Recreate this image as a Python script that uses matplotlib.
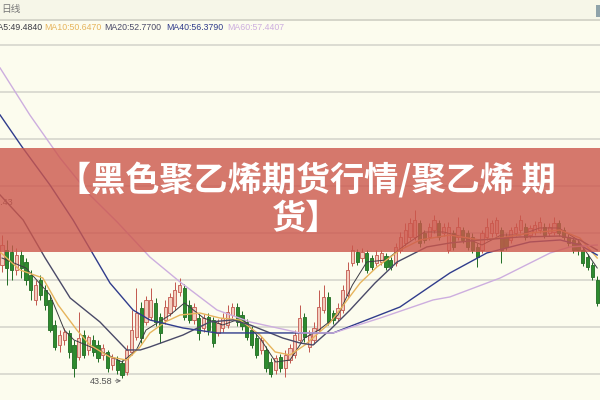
import numpy as np
import matplotlib
matplotlib.use("Agg")
import matplotlib.pyplot as plt
from matplotlib.patches import Rectangle

# ---- candles (daily bars, left to right) ----
opens = [55.60, 57.19, 56.98, 55.07, 56.66, 55.92, 54.54, 51.88, 54.00, 52.94,
         51.88, 49.22, 47.09, 47.62, 48.37, 47.09, 45.81, 48.15, 46.56, 47.62,
         47.09, 46.03, 46.35, 44.96, 45.49, 45.17, 44.22, 46.35, 47.94, 51.03,
         49.54, 50.07, 51.56, 50.07, 49.75, 50.49, 51.24, 52.73, 53.15, 51.34,
         49.75, 49.96, 48.90, 50.07, 49.75, 48.37, 48.90, 49.22, 50.28, 51.13,
         50.28, 49.54, 48.68, 47.83, 46.56, 46.56, 45.28, 44.43, 45.81, 44.64,
         45.49, 46.03, 47.62, 50.07, 46.88, 47.62, 48.68, 50.81, 52.20, 50.49,
         49.96, 50.81, 52.41, 55.81, 56.98, 56.34, 56.88, 56.34, 55.81, 55.92,
         56.56, 56.13, 55.81, 57.19, 57.94, 58.58, 58.58, 60.07, 59.00, 58.58,
         59.32, 60.07, 59.00, 57.19, 59.00, 58.58, 59.32, 59.00, 58.58, 57.52,
         57.19, 58.58, 59.00, 59.00, 59.32, 58.58, 58.26, 59.00, 59.32, 59.64,
         58.79, 59.11, 59.32, 59.64, 59.00, 59.11, 60.07, 59.32, 58.58, 58.26,
         57.94, 57.19, 56.45, 55.60, 54.00]
closes = [57.73, 55.28, 55.07, 56.66, 55.28, 54.00, 52.94, 53.47, 52.41, 51.34,
          48.68, 46.88, 48.15, 48.47, 46.35, 44.64, 47.83, 46.03, 47.94, 46.35,
          45.70, 46.77, 44.64, 45.70, 44.43, 43.90, 46.56, 48.68, 50.49, 47.83,
          51.88, 51.88, 49.54, 48.37, 51.13, 52.20, 52.94, 53.47, 50.07, 49.75,
          51.13, 48.37, 49.96, 48.68, 47.30, 49.43, 49.96, 50.60, 51.13, 49.54,
          49.11, 47.94, 47.09, 46.03, 47.62, 44.64, 44.00, 45.70, 44.64, 46.03,
          46.77, 48.15, 49.96, 47.94, 48.15, 48.90, 51.13, 52.20, 49.54, 49.75,
          51.03, 52.94, 55.07, 57.19, 55.92, 56.98, 55.07, 55.39, 56.66, 56.88,
          55.39, 55.39, 57.52, 58.58, 59.32, 60.07, 60.39, 57.94, 58.26, 59.64,
          60.39, 58.58, 59.64, 59.64, 57.52, 59.64, 58.26, 57.52, 57.19, 56.45,
          59.00, 59.64, 60.07, 60.39, 57.19, 57.52, 59.32, 59.64, 60.39, 58.58,
          59.54, 59.85, 60.17, 58.79, 59.64, 60.07, 59.00, 58.58, 57.94, 57.19,
          57.19, 55.81, 55.39, 54.32, 51.56]
highs = [58.79, 58.26, 57.73, 57.41, 57.19, 56.34, 55.07, 54.00, 54.54, 53.47,
         52.41, 49.75, 48.68, 48.90, 48.68, 47.62, 50.60, 48.68, 48.15, 48.15,
         47.62, 47.20, 46.56, 46.13, 45.92, 45.49, 47.09, 50.81, 53.15, 51.66,
         52.30, 53.15, 52.09, 50.49, 51.88, 52.62, 53.79, 54.22, 53.58, 51.88,
         51.56, 50.39, 50.39, 50.49, 50.07, 49.86, 50.49, 51.34, 51.56, 51.56,
         50.71, 49.86, 49.11, 48.26, 48.05, 46.98, 45.70, 46.03, 46.13, 46.56,
         47.20, 48.68, 51.34, 50.49, 48.68, 49.54, 52.94, 53.47, 52.73, 50.81,
         51.56, 53.47, 55.92, 57.73, 57.30, 57.41, 57.19, 56.66, 57.19, 57.19,
         56.88, 56.45, 57.94, 59.11, 60.07, 60.60, 61.45, 60.39, 59.32, 60.07,
         60.92, 60.39, 60.07, 60.17, 59.32, 60.70, 59.64, 59.32, 59.00, 57.94,
         59.32, 60.60, 60.39, 60.70, 59.64, 59.00, 59.64, 60.07, 60.92, 60.07,
         59.85, 60.28, 60.70, 60.07, 60.07, 60.70, 60.39, 59.64, 58.90, 58.58,
         58.26, 57.52, 56.77, 55.92, 54.43]
lows = [54.85, 53.47, 54.00, 54.54, 54.22, 53.47, 51.88, 51.34, 51.88, 50.81,
        48.47, 46.56, 46.35, 47.09, 45.70, 43.68, 45.49, 45.70, 46.03, 45.92,
        45.28, 45.49, 44.22, 44.43, 44.00, 43.58, 43.90, 46.03, 47.62, 47.30,
        49.22, 49.75, 49.11, 47.30, 49.32, 50.17, 50.81, 52.30, 49.75, 49.43,
        49.32, 47.62, 48.47, 48.15, 46.88, 48.05, 48.47, 48.90, 49.96, 49.11,
        48.68, 47.62, 46.77, 45.70, 46.13, 44.22, 43.68, 44.00, 44.22, 43.68,
        45.17, 45.70, 47.30, 47.41, 46.35, 47.20, 48.37, 50.49, 49.22, 49.32,
        49.64, 50.49, 52.09, 55.49, 55.60, 55.92, 54.75, 55.07, 55.49, 55.60,
        55.07, 55.07, 55.49, 56.88, 57.62, 58.26, 58.26, 57.52, 57.94, 58.26,
        59.00, 58.26, 58.68, 56.88, 57.19, 58.26, 57.94, 57.19, 56.88, 55.39,
        56.88, 58.26, 58.58, 58.68, 55.81, 57.19, 57.94, 58.68, 59.00, 58.26,
        58.47, 58.79, 59.00, 58.47, 58.68, 58.79, 58.68, 58.26, 57.62, 56.88,
        56.66, 55.49, 55.07, 54.00, 51.24]

# ---- moving averages at bar positions ----
ma5_x = [0, 5, 10, 13, 15, 20, 25, 28, 30, 35, 38, 42, 46, 50, 54, 57, 60, 63,
         66, 70, 73, 76, 80, 84, 88, 92, 96, 100, 104, 108, 112, 116, 120, 124]
ma5_y = [56.34, 55.28, 52.41, 48.68, 47.62, 46.56, 45.28, 46.56, 48.68, 50.28,
         51.56, 49.96, 49.22, 49.96, 47.62, 45.28, 45.49, 47.83, 48.68, 50.28,
         53.47, 55.92, 56.13, 57.73, 59.11, 59.11, 58.58, 57.73, 58.79, 58.79,
         59.54, 59.54, 58.26, 55.28]
ma10_x = [-0.4, 3.75, 8.5, 11.7, 15.6, 18.3, 22.5, 26, 28.75, 30.8, 34, 37.1,
          41.25, 45.4, 49.6, 53.75, 56.9, 60, 63.1, 68.3, 74.6, 78.1, 82.9, 87.1,
          93.3, 99.6, 103.75, 110, 116.25, 120.4, 124]
ma10_y = [56.98, 55.07, 54.22, 51.34, 48.68, 47.09, 45.81, 45.49, 46.88, 48.37,
          49.54, 50.28, 50.49, 49.96, 49.75, 48.15, 46.35, 46.03, 47.09, 49.43,
          53.68, 55.39, 57.19, 58.26, 58.79, 58.26, 58.47, 59.00, 59.32, 58.47,
          56.34]
ma20_x = [-0.4, 4.4, 9, 14.2, 20.4, 26, 28.8, 30.8, 37.7, 43.3, 48.1, 51.7,
          58.5, 62.1, 64.8, 68.3, 72.5, 77.7, 82.3, 88.5, 93.3, 99.6, 107.9,
          116.3, 120.4, 124]
ma20_y = [63.05, 60.39, 56.34, 52.09, 49.54, 46.56, 46.56, 46.88, 48.15, 49.54,
          49.75, 49.22, 47.83, 47.30, 47.09, 48.68, 50.81, 53.68, 55.92, 57.52,
          57.94, 58.26, 58.58, 58.68, 58.26, 57.19]
ma40_x = [-0.4, 4.2, 10, 14.8, 22.5, 27.3, 30.8, 37.7, 44.8, 51.7, 62.1, 69,
          82.9, 93.3, 101, 110, 116.3, 120.4, 124]
ma40_y = [71.56, 68.15, 64.11, 60.39, 53.68, 50.81, 49.75, 48.90, 48.37, 48.37,
          48.37, 48.37, 51.13, 54.75, 56.88, 58.05, 58.26, 57.73, 56.66]
ma60_x = [-0.4, 5.8, 12.1, 18.3, 24, 30.8, 37.1, 44.8, 51.7, 62.1, 69, 78.8,
          89.8, 93.3, 103.8, 114.2, 118.3, 124]
ma60_y = [76.56, 71.56, 66.98, 63.05, 60.17, 56.45, 53.79, 50.81, 49.54, 48.37,
          48.37, 49.96, 51.88, 52.20, 54.22, 56.88, 57.52, 57.73]

ma_labels = ["MA5:49.4840", "MA10:50.6470", "MA20:52.7700", "MA40:56.3790", "MA60:57.4407"]
grid_levels = [44, 49, 54, 59, 64, 69, 74, 79]
low_label = "43.58"
low_bar = 25

BG = "#FCFCEE"
UP_EDGE, UP_FACE = "#C2574E", "#F3CDBE"
DN_EDGE, DN_FACE = "#1F6B22", "#2E8B2E"
MA_COLORS = ["#3C3C44", "#E6B45C", "#4A4A68", "#303C8C", "#CDAEDF"]
MA_WIDTHS = [0.7, 1.0, 1.0, 1.0, 1.0]
SMALL_FONT = ["Liberation Sans", "DejaVu Sans"]

W, H = 600, 400
fig = plt.figure(figsize=(6, 4), dpi=100, facecolor=BG)
ax = fig.add_axes([0, 0, 1, 1])
ax.set_facecolor(BG)

for g in grid_levels:
    ax.axhline(g, color="#DCDCD2", lw=1.4, zorder=0)

idx = np.arange(len(opens))
o = np.array(opens); c = np.array(closes)
h = np.array(highs); l = np.array(lows)
up = c >= o
bw = 0.68
for i in idx:
    top, bot = max(o[i], c[i]), min(o[i], c[i])
    ec, fc = (UP_EDGE, UP_FACE) if up[i] else (DN_EDGE, DN_FACE)
    ax.vlines(i, top, h[i], color=ec, lw=0.7, zorder=2)
    ax.vlines(i, l[i], bot, color=ec, lw=0.7, zorder=2)
    ax.add_patch(Rectangle((i - bw / 2, bot), bw, max(top - bot, 0.06),
                           facecolor=fc, edgecolor=ec, lw=0.6, zorder=3))

for (mx, my), col, lw in zip([(ma5_x, ma5_y), (ma10_x, ma10_y), (ma20_x, ma20_y),
                              (ma40_x, ma40_y), (ma60_x, ma60_y)], MA_COLORS, MA_WIDTHS):
    ax.plot(mx, my, color=col, lw=lw, zorder=4)

ax.annotate(low_label, xy=(low_bar - 0.2, lows[low_bar] - 0.3), xytext=(23.0, 43.25),
            ha="right", va="center", fontsize=6.6, color="#555555", family=SMALL_FONT,
            arrowprops=dict(arrowstyle="->", color="#666666", lw=0.6, shrinkA=0, shrinkB=0),
            zorder=5)
ax.text(2.3, 62.3, "53.43", ha="right", va="center", fontsize=6.6, color="#555555",
        family=SMALL_FONT, zorder=5)

ax.set_xlim(-0.4167, 124.58)
ax.set_ylim(83.79 - 0.10638 * H, 83.79)
ax.axis("off")


def fy(px):
    return 1 - px / H


# header strip and MA legend row
fig.patches.append(Rectangle((0, fy(19)), 1, 19 / H, transform=fig.transFigure,
                             facecolor="#F6F6E8", edgecolor="none", zorder=10))
fig.patches.append(Rectangle((0, fy(36)), 1, 17 / H, transform=fig.transFigure,
                             facecolor=BG, edgecolor="none", zorder=10))
fig.patches.append(Rectangle((0, fy(20.5)), 1, 2 / H, transform=fig.transFigure,
                             facecolor="#D6D6CA", edgecolor="none", zorder=11))
fig.patches.append(Rectangle((596 / W, fy(17)), 4 / W, 12 / H, transform=fig.transFigure,
                             facecolor="#8FA3AA", edgecolor="none", zorder=11))
fig.text(1 / W, fy(9), "日线", fontsize=7, color="#777777", va="center", ha="left",
         family=["Noto Sans CJK SC", "DejaVu Sans"], zorder=12)

leg_x = [42, 44, 104, 166, 227]
for k, (txt, col, xx) in enumerate(zip(ma_labels, MA_COLORS, leg_x)):
    fig.text(xx / W, fy(28), txt, fontsize=6.3, color=col, va="center",
             ha="right" if k == 0 else "left", family=SMALL_FONT, zorder=12)

# title banner over the chart
fig.patches.append(Rectangle((0, fy(252)), 1, 104 / H, transform=fig.transFigure,
                             facecolor="#CC574C", alpha=0.8, edgecolor="none", zorder=20))
title_font = ["Noto Sans CJK SC", "DejaVu Sans"]
fig.text(306 / W, fy(180), "【黑色聚乙烯期货行情/聚乙烯 期", fontsize=24.6, color="white",
         weight="heavy", ha="center", va="center", family=title_font, zorder=21)
fig.text(306 / W, fy(218), "货】", fontsize=24.6, color="white",
         weight="heavy", ha="center", va="center", family=title_font, zorder=21)

fig.savefig("out.png", dpi=100, facecolor=BG)
